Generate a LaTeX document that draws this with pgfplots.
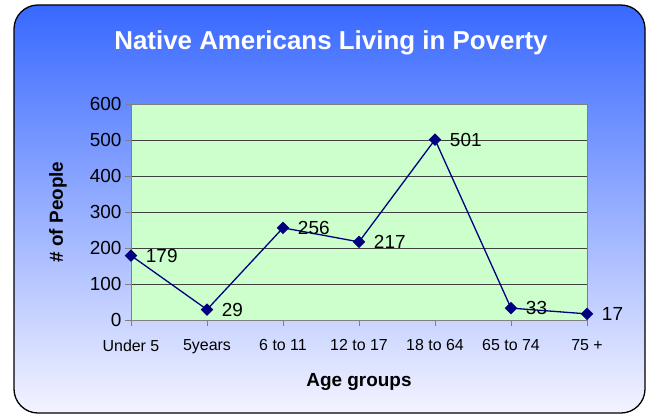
\documentclass[border=0pt]{standalone}
\usepackage{fontspec}
\setmainfont{Liberation Sans}
\usepackage{pgfplots}
\pgfplotsset{compat=1.18}
\definecolor{navyline}{RGB}{0,0,128}
\definecolor{plotgreen}{RGB}{204,255,204}
\definecolor{topblue}{RGB}{56,104,255}
\definecolor{botwhite}{RGB}{244,244,255}
\begin{document}
\begin{tikzpicture}[x=1bp,y=1bp]
\fill[white] (0,0) rectangle (646,416);
\shade[top color=topblue, bottom color=botwhite, draw=black, line width=1.3bp, rounded corners=24bp] (14,3) rectangle (645,411);
\node[text=white, font=\bfseries\fontsize{26}{31}\selectfont] at (331,373) {Native Americans Living in Poverty};
\begin{axis}[
  at={(131bp,96bp)}, anchor=south west, scale only axis,
  width=456bp, height=216bp,
  xmin=0, xmax=6, ymin=0, ymax=600,
  xtick={0,...,6},
  xticklabels={Under 5, 5years, 6 to 11, 12 to 17, 18 to 64, 65 to 74, 75 +},
  ytick={0,100,...,600},
  ymajorgrids, grid style={black!75, line width=0.8bp},
  axis background/.style={fill=plotgreen},
  axis line style={gray, line width=0.8bp},
  tick style={gray, line width=0.8bp},
  tick align=outside, major tick length=6bp,
  xtick pos=bottom, ytick pos=left,
  /pgf/number format/assume math mode=true,
  xticklabel style={font=\fontsize{16}{19}\selectfont, yshift=-10bp},
  yticklabel style={font=\fontsize{19}{22}\selectfont},
  xlabel={Age groups}, ylabel={\# of People},
  xlabel style={font=\bfseries\fontsize{19}{22}\selectfont, at={(axis description cs:0.5,-0.285)}, anchor=center},
  ylabel style={font=\bfseries\fontsize{19}{22}\selectfont, at={(axis description cs:-0.160,0.5)}, anchor=center},
  clip=false,
  nodes near coords,
  every node near coord/.append style={anchor=west, xshift=11bp, font=\fontsize{19}{22}\selectfont, text=black},
]
\addplot[navyline, line width=1.3bp, mark=square*, mark size=3.8bp, mark options={rotate=45, fill=navyline, draw=navyline}]
  coordinates {(0,179) (1,29) (2,256) (3,217) (4,501) (5,33) (6,17)};
\end{axis}
\end{tikzpicture}
\end{document}
